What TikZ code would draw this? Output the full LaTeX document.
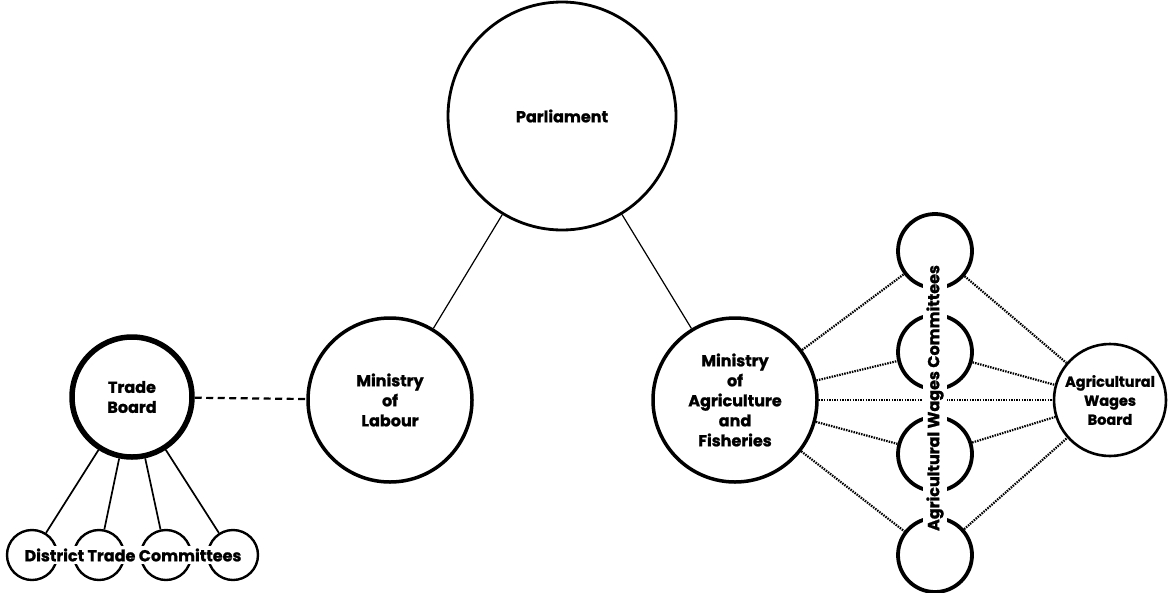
\documentclass[tikz,border=0pt]{standalone}
\usepackage{fontspec}
\setmainfont{Poppins}[BoldFeatures={FakeBold=1.2}]
\begin{document}
\begin{tikzpicture}[x=1pt,y=-1pt,
  txt/.style={font=\bfseries\fontsize{16}{20}\selectfont, align=center},
  org/.style={circle, draw, inner sep=0pt, txt},
  small/.style={circle, draw, inner sep=0pt, minimum size=50, line width=2.4pt},
  awc/.style={circle, draw, inner sep=0pt, minimum size=74, line width=3.8pt},
  thinlink/.style={line width=1.2pt},
  link/.style={line width=1.7pt},
  dashlink/.style={line width=2.2pt, dash pattern=on 7pt off 4.5pt},
  dotlink/.style={line width=2.2pt, dash pattern=on 1.5pt off 1.1pt},
  cover/.style={txt, fill=white, inner xsep=1pt, inner ysep=3pt}]
\useasboundingbox (0,0) rectangle (1169,592);
\fill[white] (0,0) rectangle (1169,592);
\node[org, minimum size=228, line width=2.8pt] (par) at (562,116) {Parliament};
\node[org, minimum size=164, line width=3.5pt] (mol) at (390,400) {Ministry\\of\\Labour};
\node[org, minimum size=164, line width=3.5pt] (maf) at (735,400) {Ministry\\of\\Agriculture\\and\\Fisheries};
\node[org, minimum size=112, line width=2.6pt, font=\bfseries\fontsize{14.5}{19}\selectfont] (awb) at (1110,400) {Agricultural\\Wages\\Board};
\node[org, minimum size=120, line width=5.5pt] (tb) at (132,397) {Trade\\Board};
\node[small] (d1) at (32,555) {};
\node[small] (d2) at (99,555) {};
\node[small] (d3) at (166,555) {};
\node[small] (d4) at (233,555) {};
\node[awc] (c1) at (935,251) {};
\node[awc] (c2) at (935,352) {};
\node[awc] (c3) at (935,454) {};
\node[awc] (c4) at (935,555) {};
\draw[thinlink] (par) -- (mol);
\draw[thinlink] (par) -- (maf);
\draw[dashlink] (tb) -- (mol);
\foreach \d in {d1,d2,d3,d4} \draw[link] (tb) -- (\d);
\foreach \c in {c1,c2,c3,c4} {
  \draw[dotlink] (maf) -- (\c);
  \draw[dotlink] (\c) -- (awb);
}
\draw[dotlink] (maf) -- (awb);
\node[cover] (dtc) at (133,555) {District Trade Committees};
\node[cover, rotate=90] (awct) at (935,398) {Agricultural Wages Committees};
\end{tikzpicture}
\end{document}
